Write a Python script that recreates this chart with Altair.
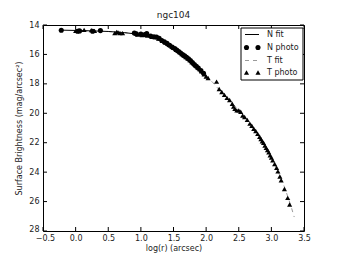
import altair as alt
import pandas as pd

# ---- data ----
n_photo_x = [-0.22, 0.03, 0.06, 0.26, 0.38, 0.90, 0.93, 1.00, 1.06, 1.09, 1.15, 1.20, 1.24, 1.28,
             1.32, 1.36, 1.40, 1.44, 1.48, 1.52, 1.55, 1.58, 1.61, 1.64, 1.67, 1.70, 1.73, 1.76,
             1.79, 1.82, 1.85, 1.88, 1.92, 1.96]
n_photo_y = [14.36, 14.42, 14.40, 14.42, 14.38, 14.55, 14.60, 14.62, 14.65, 14.58, 14.75, 14.80, 14.82, 14.90,
             15.05, 15.15, 15.25, 15.38, 15.50, 15.60, 15.70, 15.80, 15.90, 16.00, 16.10, 16.20, 16.30, 16.42,
             16.55, 16.68, 16.80, 16.92, 17.10, 17.28]

t_photo_x = [0.00, 0.04, 0.13, 0.24, 0.29, 0.60, 0.63, 0.65, 0.68, 0.72, 0.95, 1.02, 1.10, 1.17, 1.22,
             1.27, 1.33, 1.38, 1.43, 1.47, 1.50, 1.54, 1.57, 1.60, 1.63, 1.66, 1.69, 1.72, 1.75, 1.78,
             1.81, 1.84, 1.87, 1.90, 1.93, 1.97, 2.00, 2.03, 2.16, 2.20, 2.24, 2.28, 2.32, 2.36, 2.40,
             2.42, 2.44, 2.47, 2.50, 2.53, 2.56, 2.59, 2.63, 2.67, 2.70, 2.73, 2.76, 2.79, 2.82, 2.84,
             2.86, 2.88, 2.90, 2.92, 2.94, 2.96, 2.98, 3.00, 3.02, 3.05, 3.08, 3.10, 3.13, 3.15, 3.20,
             3.25, 3.28]
t_photo_y = [14.40, 14.38, 14.33, 14.35, 14.40, 14.55, 14.48, 14.50, 14.55, 14.55, 14.65, 14.68, 14.72, 14.80, 14.82,
             14.92, 15.05, 15.20, 15.35, 15.45, 15.55, 15.68, 15.75, 15.85, 15.98, 16.08, 16.18, 16.28, 16.38, 16.52,
             16.62, 16.75, 16.88, 17.00, 17.15, 17.35, 17.50, 17.60, 17.85, 18.35, 18.55, 18.75, 18.95, 19.10, 19.35,
             19.55, 19.70, 19.80, 19.80, 19.90, 20.15, 20.25, 20.45, 20.70, 20.85, 21.05, 21.20, 21.40, 21.60, 21.75,
             21.90, 22.00, 22.20, 22.35, 22.50, 22.65, 22.85, 23.00, 23.20, 23.45, 23.70, 23.95, 24.30, 24.55, 25.15,
             25.75, 26.20]

n_fit_x = [-0.22, 0.0, 0.25, 0.5, 0.75, 1.0, 1.1, 1.2, 1.3, 1.4, 1.5, 1.6, 1.7, 1.8, 1.9, 2.0]
n_fit_y = [14.35, 14.37, 14.40, 14.44, 14.52, 14.65, 14.72, 14.83, 15.00, 15.25, 15.55, 15.85, 16.20, 16.60, 17.00, 17.45]

t_fit_x = [0.0, 0.25, 0.5, 0.75, 1.0, 1.1, 1.2, 1.3, 1.4, 1.5, 1.6, 1.7, 1.8, 1.9, 2.0, 2.1, 2.2, 2.3,
           2.4, 2.5, 2.6, 2.7, 2.8, 2.9, 3.0, 3.1, 3.2, 3.3, 3.35]
t_fit_y = [14.37, 14.40, 14.44, 14.52, 14.65, 14.72, 14.83, 15.00, 15.25, 15.55, 15.85, 16.20, 16.60, 17.00,
           17.45, 17.90, 18.40, 18.85, 19.30, 19.80, 20.30, 20.85, 21.45, 22.20, 23.00, 23.95, 25.00, 26.30, 27.05]

x_ticks = [-0.5, 0.0, 0.5, 1.0, 1.5, 2.0, 2.5, 3.0, 3.5]
y_ticks = [14, 16, 18, 20, 22, 24, 26, 28]

legend_labels = ["N fit", "N photo", "T fit", "T photo"]

W, H = 261, 206
FONT = "DejaVu Sans"
MS = 26

xs = alt.Scale(domain=[-0.5, 3.5], nice=False, zero=False)
ys = alt.Scale(domain=[14, 28], reverse=True, nice=False, zero=False)

xaxis = alt.Axis(values=x_ticks, format=".1f", ticks=False, domain=False, grid=False,
                 labelFontSize=8, labelPadding=3, title="log(r) (arcsec)", titleFontSize=8,
                 titleFontWeight="normal", titlePadding=2, labelColor="#222", titleColor="#222",
                 labelFlush=False,
                 labelOffset={"condition": {"test": "datum.value == -0.5", "value": 2}, "value": 0})
yaxis = alt.Axis(values=y_ticks, ticks=False, domain=False, grid=False,
                 labelFontSize=8, labelPadding=4, title="Surface Brightness (mag/arcsec²)",
                 titleFontSize=8, titleFontWeight="normal", titlePadding=5,
                 labelColor="#222", titleColor="#222", labelFlush=False,
                 labelOffset={"condition": {"test": "datum.value == 28", "value": -2}, "value": 0})

df_n = pd.DataFrame({"x": n_photo_x, "y": n_photo_y})
df_t = pd.DataFrame({"x": t_photo_x, "y": t_photo_y})
df_nf = pd.DataFrame({"x": n_fit_x, "y": n_fit_y})
df_tf = pd.DataFrame({"x": t_fit_x, "y": t_fit_y})
df_xt = pd.DataFrame({"x": x_ticks})
df_yt = pd.DataFrame({"y": y_ticks})

X = alt.X("x:Q", scale=xs, axis=xaxis)
Y = alt.Y("y:Q", scale=ys, axis=yaxis)

tfit = alt.Chart(df_tf).mark_line(color="#9a9a9a", strokeDash=[4, 4], strokeWidth=1).encode(x=X, y=Y, order="x:Q")
nfit = alt.Chart(df_nf).mark_line(color="black", strokeWidth=1).encode(x=X, y=Y, order="x:Q")
npts = alt.Chart(df_n).mark_point(shape="circle", filled=True, color="black", size=MS, opacity=1).encode(x=X, y=Y)
tpts = alt.Chart(df_t).mark_point(shape="triangle-up", filled=True, color="black", size=MS, opacity=1).encode(x=X, y=Y)

xt = alt.Chart(df_xt)
yt = alt.Chart(df_yt)
tick_b = xt.mark_rule(color="black").encode(x=X, y=alt.value(H - 4), y2=alt.value(H))
tick_t = xt.mark_rule(color="black").encode(x=X, y=alt.value(0), y2=alt.value(4))
tick_l = yt.mark_rule(color="black").encode(y=Y, x=alt.value(0), x2=alt.value(4))
tick_r = yt.mark_rule(color="black").encode(y=Y, x=alt.value(W - 4), x2=alt.value(W))

# legend box
one = pd.DataFrame({"a": [0]})
lbox = alt.Chart(one).mark_rect(fill="white", stroke="black", strokeWidth=1).encode(
    x=alt.value(198), x2=alt.value(260), y=alt.value(3), y2=alt.value(55))
rows = [9.5, 22.5, 35.5, 47.5]
l1 = alt.Chart(one).mark_rule(color="black", strokeWidth=1).encode(
    x=alt.value(202), x2=alt.value(216), y=alt.value(rows[0]))
l3 = alt.Chart(one).mark_rule(color="#9a9a9a", strokeWidth=1, strokeDash=[4, 4]).encode(
    x=alt.value(202), x2=alt.value(216), y=alt.value(rows[2]))
lc = alt.Chart(pd.DataFrame({"px": [203.5, 215]})).mark_point(
    shape="circle", filled=True, color="black", size=MS, opacity=1).encode(
    x=alt.X("px:Q", scale=None), y=alt.value(rows[1]))
ltri = alt.Chart(pd.DataFrame({"px": [203.5, 215]})).mark_point(
    shape="triangle-up", filled=True, color="black", size=MS, opacity=1).encode(
    x=alt.X("px:Q", scale=None), y=alt.value(rows[3]))
ltxt = alt.Chart(pd.DataFrame({"lab": legend_labels, "py": rows})).mark_text(
    align="left", baseline="middle", fontSize=8, font=FONT, color="#222").encode(
    x=alt.value(224), y=alt.Y("py:Q", scale=None), text="lab:N")

chart = alt.layer(
    tfit, nfit, npts, tpts, tick_b, tick_t, tick_l, tick_r, lbox, l1, l3, lc, ltri, ltxt
).properties(
    width=W, height=H,
    title=alt.TitleParams("ngc104", fontSize=9, font=FONT, fontWeight="normal", color="#222", offset=1),
    autosize=alt.AutoSizeParams(type="none"),
    padding={"left": 35, "top": 17, "right": 10, "bottom": 26},
).configure(font=FONT).configure_view(stroke="black", strokeWidth=1)

chart.save("out.html", embed_options={"renderer": "svg", "actions": False})
